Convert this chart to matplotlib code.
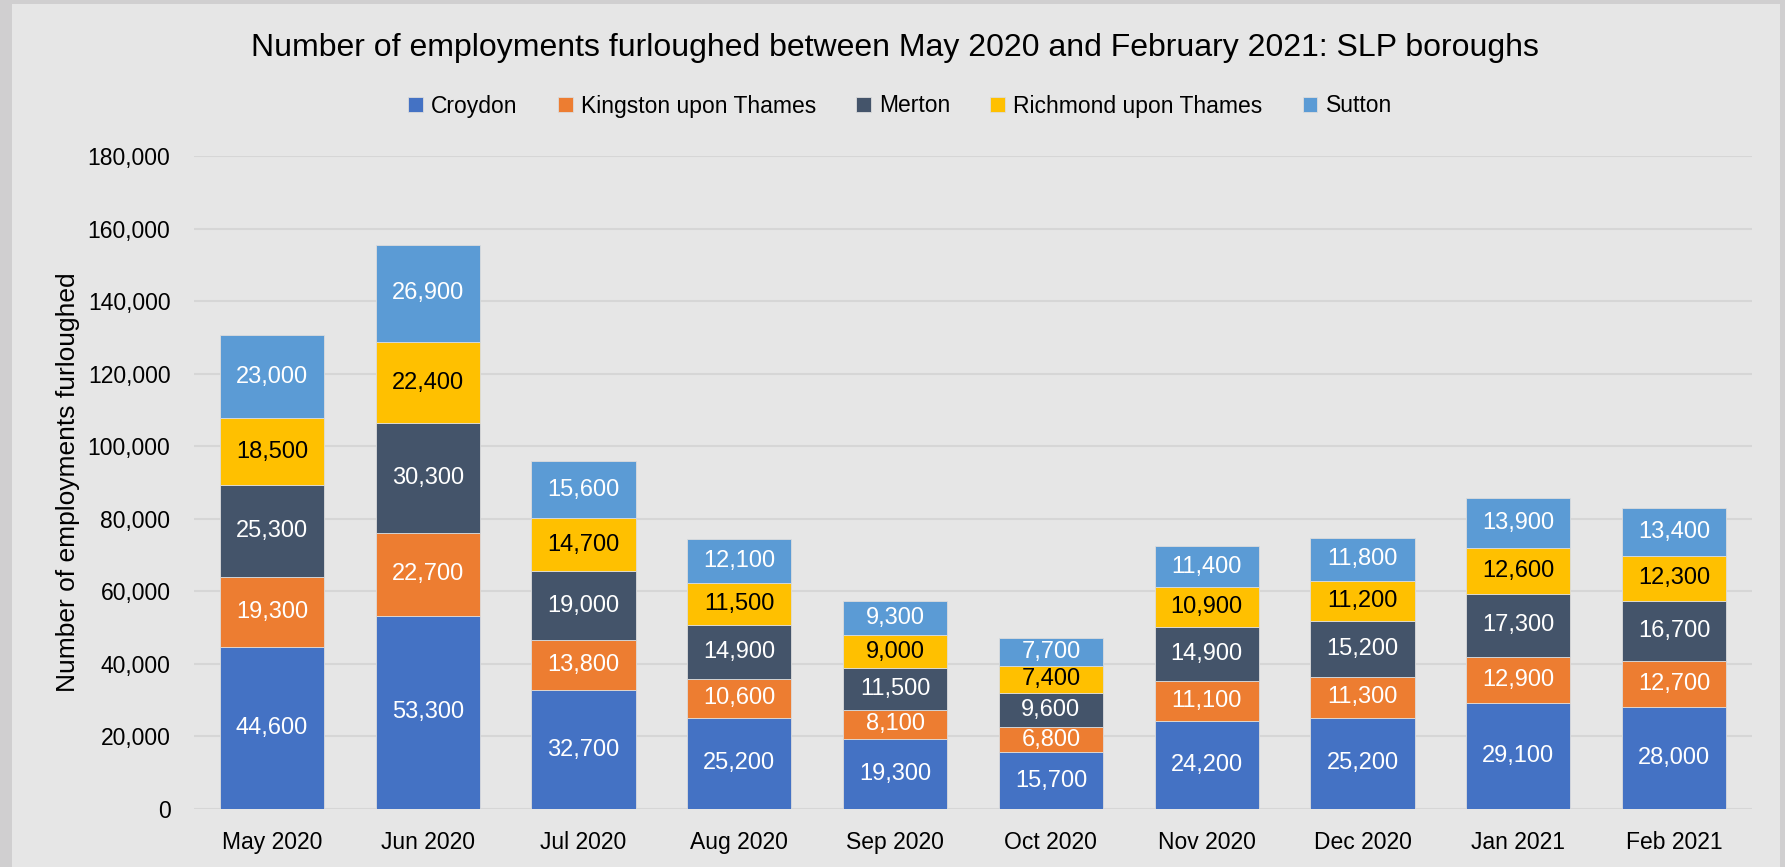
import numpy as np
import matplotlib.pyplot as plt
from matplotlib.patches import Rectangle
from matplotlib.ticker import FuncFormatter

plt.rcParams['font.family'] = ['Liberation Sans', 'DejaVu Sans']

# Data
months = ['May 2020', 'Jun 2020', 'Jul 2020', 'Aug 2020', 'Sep 2020',
          'Oct 2020', 'Nov 2020', 'Dec 2020', 'Jan 2021', 'Feb 2021']
croydon = [44600, 53300, 32700, 25200, 19300, 15700, 24200, 25200, 29100, 28000]
kingston = [19300, 22700, 13800, 10600, 8100, 6800, 11100, 11300, 12900, 12700]
merton = [25300, 30300, 19000, 14900, 11500, 9600, 14900, 15200, 17300, 16700]
richmond = [18500, 22400, 14700, 11500, 9000, 7400, 10900, 11200, 12600, 12300]
sutton = [23000, 26900, 15600, 12100, 9300, 7700, 11400, 11800, 13900, 13400]

series = [
    ('Croydon', croydon, '#4472C4', 'white'),
    ('Kingston upon Thames', kingston, '#ED7D31', 'white'),
    ('Merton', merton, '#44546A', 'white'),
    ('Richmond upon Thames', richmond, '#FFC000', 'black'),
    ('Sutton', sutton, '#5B9BD5', 'white'),
]

W, H = 1785, 867
fig = plt.figure(figsize=(W / 100, H / 100), dpi=100)
fig.patch.set_facecolor('#d0cfd0')
# inner chart panel
fig.add_artist(Rectangle((12 / W, 0), (1780 - 12) / W, 1 - 4 / H,
                         transform=fig.transFigure, facecolor='#e6e6e6',
                         edgecolor='none', zorder=0))

ax = fig.add_axes([194 / W, 1 - 809 / H, (1752 - 194) / W, (809 - 156) / H])
ax.set_facecolor('#e6e6e6')

x = np.arange(len(months))
bottom = np.zeros(len(months))
for name, vals, color, tcolor in series:
    vals = np.array(vals)
    bars = ax.bar(x, vals, width=0.67, bottom=bottom, color=color,
                  edgecolor='#dcdcdc', linewidth=0.6, label=name, zorder=2)
    ax.bar_label(bars, labels=[f'{v:,}' for v in vals], label_type='center',
                 color=tcolor, fontsize=17)
    bottom += vals

ax.set_xlim(-0.5, len(months) - 0.5)
ax.set_ylim(0, 180000)
ax.set_yticks(np.arange(0, 180001, 20000))
ax.yaxis.set_major_formatter(FuncFormatter(lambda v, p: f'{int(v):,}'))
ax.set_xticks(x)
ax.set_xticklabels(months)
ax.tick_params(axis='both', length=0, labelsize=16.5, colors='black')
ax.tick_params(axis='x', pad=16)
ax.tick_params(axis='y', pad=17)
ax.grid(axis='y', color='#d6d6d6', linewidth=1.5, zorder=0)
ax.set_axisbelow(True)
for s in ax.spines.values():
    s.set_visible(False)

ax.set_ylabel('Number of employments furloughed', fontsize=19)
ax.yaxis.set_label_coords((80 - 194) / (1752 - 194), 0.5)

fig.text(895 / W, 1 - 48 / H,
         'Number of employments furloughed between May 2020 and February 2021: SLP boroughs',
         ha='center', va='center', fontsize=23)

handles, labels = ax.get_legend_handles_labels()
fig.legend(handles, labels, loc='center', bbox_to_anchor=(900 / W, 1 - 106 / H),
           ncol=5, frameon=False, fontsize=16.5, handlelength=0.65,
           handleheight=0.65, handletextpad=0.35, columnspacing=1.75)

fig.savefig('out.png', dpi=100, facecolor=fig.get_facecolor())
